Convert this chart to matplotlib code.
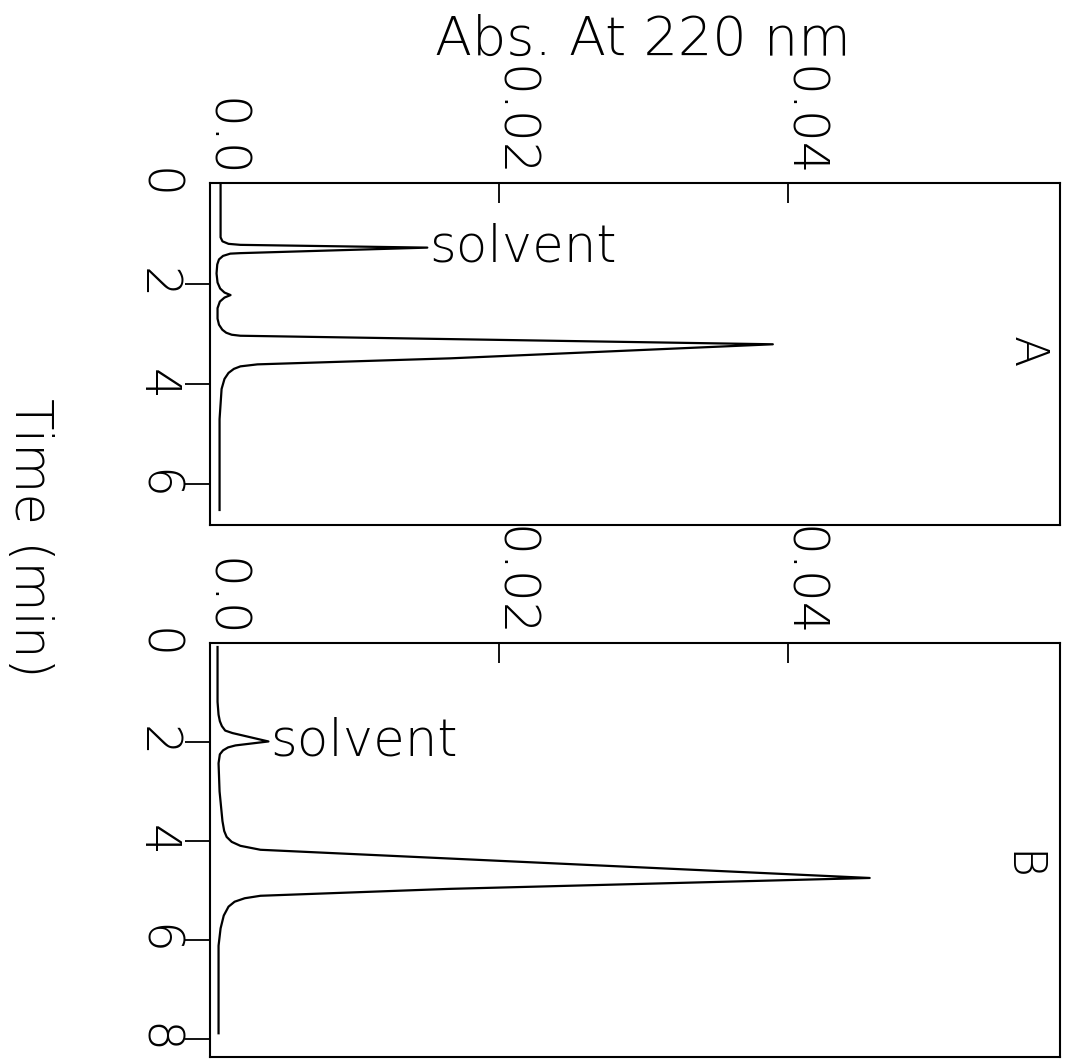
import matplotlib
matplotlib.use("Agg")
import matplotlib.pyplot as plt
import numpy as np

# Chromatogram A: retention time (min) and absorbance at 220 nm
time_a = [0.00, 1.08, 1.16, 1.21, 1.23, 1.285, 1.395, 1.405, 1.45, 1.52,
          1.62, 1.80, 1.98, 2.10, 2.18, 2.23, 2.28, 2.36, 2.49, 2.70, 2.82,
          2.92, 2.98, 3.02, 3.04, 3.21, 3.49, 3.61, 3.65, 3.70, 3.78, 3.90,
          4.10, 4.70, 6.51]
abs_a = [0.00073, 0.00073, 0.00086, 0.00128, 0.00210, 0.01503, 0.00210,
         0.00140, 0.00090, 0.00062, 0.00050, 0.00045, 0.00052, 0.00070,
         0.00100, 0.00142, 0.00100, 0.00068, 0.00052, 0.00052, 0.00062,
         0.00085, 0.00112, 0.00150, 0.00210, 0.03893, 0.01661, 0.00328,
         0.00210, 0.00165, 0.00128, 0.00100, 0.00080, 0.00066, 0.00066]

# Chromatogram B
time_b = [0.08, 1.19, 1.45, 1.58, 1.68, 1.77, 1.82, 1.99, 2.07, 2.11, 2.17,
          2.25, 2.43, 3.00, 3.60, 3.80, 3.92, 4.02, 4.10, 4.18, 4.75, 4.97,
          5.11, 5.16, 5.23, 5.33, 5.51, 5.77, 6.12, 7.89]
abs_b = [0.00052, 0.00052, 0.00059, 0.00068, 0.00082, 0.00105, 0.00155,
         0.00404, 0.00176, 0.00125, 0.00090, 0.00068, 0.00059, 0.00066,
         0.00086, 0.00098, 0.00115, 0.00150, 0.00210, 0.00349, 0.04563,
         0.01661, 0.00349, 0.00240, 0.00170, 0.00128, 0.00095, 0.00073,
         0.00059, 0.00059]

abs_ticks = [0.0, 0.02, 0.04]
abs_tick_labels = ["0.0", "0.02", "0.04"]
time_ticks_a = [0, 2, 4, 6]
time_ticks_b = [0, 2, 4, 6, 8]

plt.rcParams["font.family"] = ["DejaVu Sans"]

fig = plt.figure(figsize=(10.71, 10.62), dpi=100)
ax_a = fig.add_axes([0.1961, 0.5056, 0.7937, 0.3220])
ax_b = fig.add_axes([0.1961, 0.0047, 0.7937, 0.3898])


def style_panel(ax, t, a, time_ticks, ymax, letter, letter_pos):
    ax.plot(a, t, color="black", lw=1.6, solid_joinstyle="round")
    ax.set_xlim(0.0, 0.0588)
    ax.set_ylim(ymax, 0.0)
    for sp in ax.spines.values():
        sp.set_linewidth(1.5)
    ax.xaxis.tick_top()
    ax.set_xticks(abs_ticks, abs_tick_labels)
    ax.set_yticks(time_ticks, [str(v) for v in time_ticks])
    ax.tick_params(axis="x", direction="in", length=14.4, width=1.3,
                   pad=4, labelsize=36, labelrotation=-90)
    ax.tick_params(axis="y", direction="out", length=18, width=1.3,
                   pad=3.0, labelsize=35, labelrotation=-90)
    for lab in ax.get_xticklabels():
        lab.set_rotation_mode("anchor")
        lab.set_ha("right")
        lab.set_va("baseline")
        lab.set_fontweight("light")
    for lab in ax.get_yticklabels():
        lab.set_ha("right")
        lab.set_va("center")
        lab.set_fontweight("light")
    # no mark for the zero tick of either axis
    ax.xaxis.get_major_ticks()[0].tick2line.set_visible(False)
    ax.yaxis.get_major_ticks()[0].tick1line.set_visible(False)
    ax.text(letter_pos[0], letter_pos[1], letter, transform=ax.transAxes,
            rotation=-90, ha="center", va="center", fontsize=33,
            fontweight="light")

    # label the solvent peak (largest early peak)
    t_arr = np.asarray(t)
    a_arr = np.asarray(a)
    early = t_arr < 2.5
    i = np.flatnonzero(early)[np.argmax(a_arr[early])]
    ax.text(a_arr[i] + 0.0001, t_arr[i], "solvent", ha="left", va="center",
            fontsize=37, fontweight="light")


style_panel(ax_a, time_a, abs_a, time_ticks_a, 6.81, "A", (0.961, 0.506))
style_panel(ax_b, time_b, abs_b, time_ticks_b, 8.37, "B", (0.953, 0.461))

fig.text(0.600, 0.962, "Abs. At 220 nm", ha="center", va="center",
         fontsize=39, fontweight="light")
fig.text(0.027, 0.494, "Time (min)", ha="center", va="center",
         rotation=-90, fontsize=37, fontweight="light")

fig.savefig("out.png", dpi=100)
